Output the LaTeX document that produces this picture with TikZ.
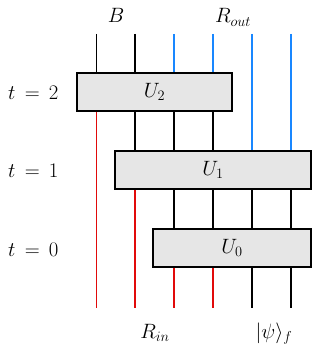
\documentclass[tikz,border=0pt]{standalone}
\usepackage{amsmath}
\definecolor{wred}{RGB}{225,10,10}
\definecolor{wblue}{RGB}{25,135,255}
\definecolor{boxgray}{RGB}{230,230,230}
\begin{document}
\begin{tikzpicture}[x=1pt,y=-1pt,
  gate/.style={draw, line width=1.5pt, fill=boxgray, minimum height=38pt, inner sep=0pt},
  wk/.style={line width=1.4pt, black},
  wr/.style={line width=1.4pt, wred},
  wb/.style={line width=1.4pt, wblue},
  lab/.style={font=\fontsize{20}{24}\selectfont, inner sep=0pt}]
\useasboundingbox (0,0) rectangle (332,352);
% gates
\node[gate, minimum width=155pt] (U2) at (154.5,92) {};
\node[gate, minimum width=196pt] (U1) at (213,170) {};
\node[gate, minimum width=158pt] (U0) at (232,248) {};
\node[lab] (l2) at (U2.center) {$U_2$};
\node[lab] (l1) at (U1.center) {$U_1$};
\node[lab] (l0) at (U0.center) {$U_0$};
% wire ends
\foreach \i/\x in {1/96.5,2/135,3/174,4/213,5/252,6/291}{
  \coordinate (t\i) at (\x,34);
  \coordinate (b\i) at (\x,308);
}
% wire 1
\draw[wk] (t1) -- (t1 |- U2.north);
\draw[wr] (t1 |- U2.south) -- (b1);
% wire 2
\draw[wk] (t2) -- (t2 |- U2.north);
\draw[wk] (t2 |- U2.south) -- (t2 |- U1.north);
\draw[wr] (t2 |- U1.south) -- (b2);
% wires 3,4
\foreach \i in {3,4}{
  \draw[wb] (t\i) -- (t\i |- U2.north);
  \draw[wk] (t\i |- U2.south) -- (t\i |- U1.north);
  \draw[wk] (t\i |- U1.south) -- (t\i |- U0.north);
  \draw[wr] (t\i |- U0.south) -- (b\i);
}
% wires 5,6
\foreach \i in {5,6}{
  \draw[wb] (t\i) -- (t\i |- U1.north);
  \draw[wk] (t\i |- U1.south) -- (t\i |- U0.north);
  \draw[wk] (t\i |- U0.south) -- (b\i);
}
% labels
\node[lab, anchor=base] (B) at (116,23) {$B$};
\node[lab, anchor=base] (Rout) at (233,23) {$R_{out}$};
\node[lab, anchor=base west] (T2) at (8,100) {$t\,=\,2$};
\node[lab, anchor=base west] (T1) at (8,178) {$t\,=\,1$};
\node[lab, anchor=base west] (T0) at (8,256) {$t\,=\,0$};
\node[lab, anchor=base] (Rin) at (155,338) {$R_{in}$};
\node[lab, anchor=base] (psi) at (274,338) {$|\psi\rangle_f$};
\end{tikzpicture}
\end{document}
